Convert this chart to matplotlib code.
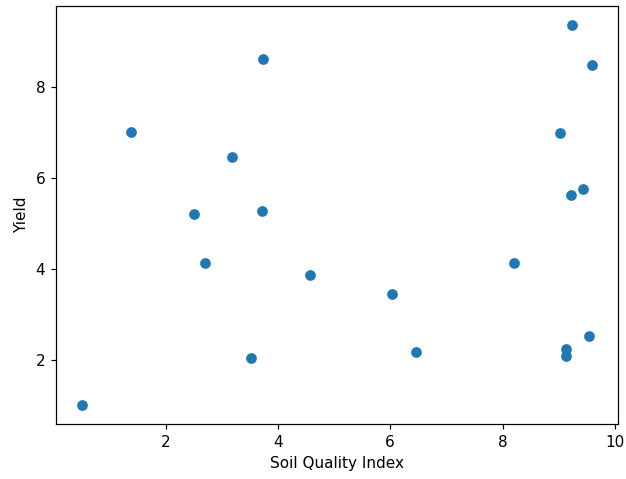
import matplotlib
matplotlib.use("Agg")
import matplotlib.pyplot as plt

soil_quality = [0.505, 1.38, 2.50, 2.71, 3.19, 3.53, 3.72, 3.74, 4.58, 6.04,
                6.45, 8.21, 9.03, 9.23, 9.60, 9.21, 9.43, 9.13, 9.13, 9.54]
yield_vals = [1.01, 7.01, 5.21, 4.13, 6.46, 2.04, 5.27, 8.62, 3.87, 3.45,
              2.18, 4.13, 6.99, 9.36, 8.48, 5.63, 5.76, 2.24, 2.09, 2.53]

dpi = 110
fig = plt.figure(figsize=(626/dpi, 479/dpi), dpi=dpi)
ax = fig.add_axes([56/626, 1-424/479, (618-56)/626, (424-6)/479])
ax.scatter(soil_quality, yield_vals, color="#1f77b4")
ax.set_xlabel("Soil Quality Index")
ax.set_ylabel("Yield")
fig.savefig("out.png", dpi=dpi)
